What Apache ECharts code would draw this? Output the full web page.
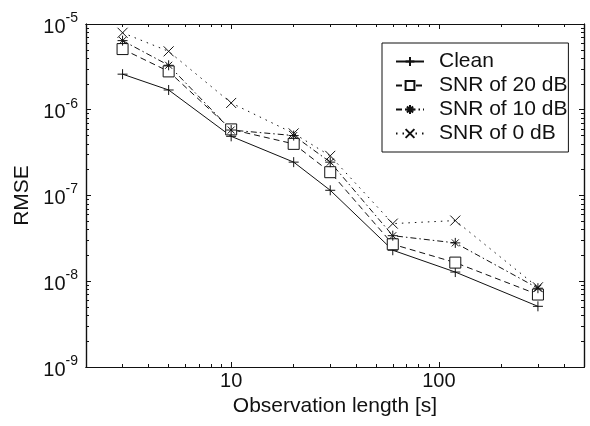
<!DOCTYPE html>
<html>
<head>
<meta charset="utf-8">
<script src="https://cdn.jsdelivr.net/npm/echarts@6/dist/echarts.min.js"></script>
<style>
  html, body { margin: 0; padding: 0; background: #fff; }
  #chart { width: 590px; height: 426px; }
</style>
</head>
<body>
<div id="chart"></div>
<script>
// observation length [s]
const obsLength = [3, 5, 10, 20, 30, 60, 120, 300];
// RMSE per condition
const clean = [2.6e-6, 1.7e-6, 4.9e-7, 2.45e-7, 1.15e-7, 2.3e-8, 1.28e-8, 5.1e-9];
const snr20 = [5.1e-6, 2.8e-6, 5.9e-7, 4.0e-7, 1.87e-7, 2.7e-8, 1.65e-8, 7.0e-9];
const snr10 = [6.4e-6, 3.3e-6, 5.8e-7, 5.0e-7, 2.45e-7, 3.4e-8, 2.8e-8, 8.3e-9];
const snr0 = [7.9e-6, 4.8e-6, 1.2e-6, 5.3e-7, 2.9e-7, 4.7e-8, 5.1e-8, 8.5e-9];
const seriesNames = ['Clean', 'SNR of 20 dB', 'SNR of 10 dB', 'SNR of 0 dB'];

// axis ticks
const xMajor = [10, 100];
const xMinor = [2, 3, 4, 5, 6, 7, 8, 9, 20, 30, 40, 50, 60, 70, 80, 90, 200, 300, 400, 500];
const yMajor = [1e-9, 1e-8, 1e-7, 1e-6, 1e-5];
const yMinor = [];
[-9, -8, -7, -6].forEach(function (e) {
  for (let k = 2; k <= 9; k++) yMinor.push(k * Math.pow(10, e));
});

const ink = '#111';
const font = 'Liberation Sans, Arial, sans-serif';

const plusPath = 'path://M0,5L10,5M5,0L5,10';
const crossPath = 'path://M0,0L10,10M0,10L10,0';
const starPath = 'path://M5,0L5,10M0,5L10,5M1.5,1.5L8.5,8.5M1.5,8.5L8.5,1.5';

function pairs(ys) {
  return obsLength.map(function (x, i) { return [x, ys[i]]; });
}

function xAxisDef(pos, ticks, len, labels) {
  return {
    type: 'log', logBase: 10, min: 2, max: 500, position: pos,
    axisLine: { show: true, onZero: false, lineStyle: { color: ink, width: 1.2 } },
    axisTick: { show: true, inside: true, length: len, customValues: ticks, lineStyle: { color: ink } },
    axisLabel: labels ? {
      show: true, customValues: xMajor, margin: 4, color: ink, fontSize: 20, fontFamily: font
    } : { show: false },
    splitLine: { show: false }
  };
}

function yAxisDef(pos, ticks, len, labels) {
  return {
    type: 'log', logBase: 10, min: 1e-9, max: 1e-5, position: pos,
    axisLine: { show: true, onZero: false, lineStyle: { color: ink, width: 1.2 } },
    axisTick: { show: true, inside: true, length: len, customValues: ticks, lineStyle: { color: ink } },
    axisLabel: labels ? {
      show: true, customValues: yMajor, margin: 8, color: ink, fontFamily: font,
      formatter: function (v) {
        return '{b|10}{s|' + Math.round(Math.log10(v)) + '}';
      },
      rich: {
        b: { fontSize: 20, fontFamily: font, color: ink, verticalAlign: 'bottom' },
        s: { fontSize: 14, fontFamily: font, color: ink, verticalAlign: 'bottom', padding: [0, 0, 12, 0] }
      }
    } : { show: false },
    splitLine: { show: false }
  };
}

const xAxes = [
  xAxisDef('bottom', xMajor, 5, true),
  xAxisDef('bottom', xMinor, 3, false),
  xAxisDef('top', xMajor, 5, false),
  xAxisDef('top', xMinor, 3, false)
];
xAxes[0].name = 'Observation length [s]';
xAxes[0].nameLocation = 'middle';
xAxes[0].nameGap = 28;
xAxes[0].nameTextStyle = { color: ink, fontSize: 21, fontFamily: font };

const yAxes = [
  yAxisDef('left', yMajor, 5, true),
  yAxisDef('left', yMinor, 3, false),
  yAxisDef('right', yMajor, 5, false),
  yAxisDef('right', yMinor, 3, false)
];
yAxes[0].name = 'RMSE';
yAxes[0].nameLocation = 'middle';
yAxes[0].nameGap = 51;
yAxes[0].nameTextStyle = { color: ink, fontSize: 21, fontFamily: font };

function lineSeries(name, ys, dash, symbol, size, fill) {
  return {
    name: name, type: 'line', xAxisIndex: 0, yAxisIndex: 0,
    data: pairs(ys),
    symbol: symbol, symbolSize: size, showAllSymbol: true,
    lineStyle: { color: ink, width: 1, type: dash },
    itemStyle: { color: fill, borderColor: ink, borderWidth: 1 },
    emphasis: { disabled: true },
    animation: false
  };
}

const myChart = echarts.init(document.getElementById('chart'));
myChart.setOption({
  backgroundColor: '#fff',
  animation: false,
  grid: { left: 86, right: 6, top: 24, bottom: 59, containLabel: false },
  xAxis: xAxes,
  yAxis: yAxes,
  legend: {
    data: seriesNames,
    orient: 'vertical',
    left: 382, top: 43,
    padding: [8, 1, 8, 13],
    itemGap: 3,
    itemWidth: 28, itemHeight: 11,
    backgroundColor: '#fff',
    borderColor: ink, borderWidth: 1,
    textStyle: { color: ink, fontSize: 21, fontFamily: font, lineHeight: 20, padding: [0, 0, 0, 10] }
  },
  series: [
    lineSeries(seriesNames[0], clean, 'solid', plusPath, 10, ink),
    lineSeries(seriesNames[1], snr20, [6, 4], 'rect', 11, '#fff'),
    lineSeries(seriesNames[2], snr10, [6, 3, 1.5, 3], starPath, 10, ink),
    lineSeries(seriesNames[3], snr0, [1.5, 5], crossPath, 10, ink)
  ]
});

window.addEventListener('resize', function () {
  myChart.resize();
});
</script>
</body>
</html>
